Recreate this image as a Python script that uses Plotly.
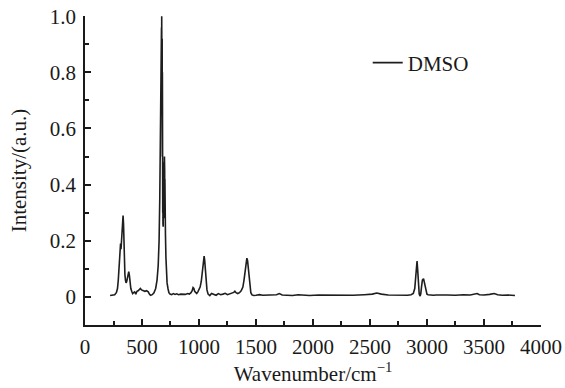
import plotly.graph_objects as go

# Raman spectrum of DMSO
wavenumber = [
    220, 240, 260, 275, 285, 292, 298, 304, 308, 312, 316, 320, 325, 330, 334, 338, 342, 346, 350, 355,
    360, 366, 372, 378, 384, 390, 396, 402, 410, 418, 426, 436, 446, 456, 466, 476, 486, 496, 510, 525,
    540, 555, 565, 575, 590, 605, 620, 632, 642, 650, 656, 660, 664, 667, 669, 671, 672, 673, 674, 675,
    676, 677, 678, 679, 680, 681, 682, 683, 684, 685, 686, 687, 688, 689, 690, 691, 692, 693, 694, 695,
    696, 697, 698, 699, 700, 701, 702, 703, 706, 710, 715, 720, 728, 736, 746, 760,
    775, 790, 805, 820, 840, 860, 880, 900, 915, 930, 940, 948, 955, 962, 970, 980, 990, 1000, 1010, 1020,
    1028, 1034, 1040, 1045, 1050, 1056, 1062, 1070, 1080, 1095, 1110, 1130, 1150, 1170, 1190, 1210, 1230, 1250, 1270, 1290,
    1305, 1315, 1325, 1340, 1355, 1370, 1385, 1395, 1405, 1413, 1420, 1426, 1432, 1438, 1446, 1455, 1465, 1480, 1500, 1530,
    1560, 1600, 1640, 1680, 1705, 1730, 1770, 1820, 1870, 1920, 1970, 2050, 2150, 2250, 2350, 2450, 2520, 2560, 2600, 2660,
    2720, 2780, 2830, 2860, 2880, 2893, 2902, 2908, 2913, 2918, 2924, 2932, 2940, 2946, 2952, 2960, 2970, 2982, 2991, 3000,
    3010, 3020, 3035, 3055, 3080, 3120, 3180, 3250, 3320, 3380, 3420, 3440, 3460, 3500, 3550, 3590, 3620, 3660, 3710, 3750,
    3772,
]
intensity_dmso = [
    0.005, 0.006, 0.008, 0.015, 0.030, 0.060, 0.100, 0.150, 0.180, 0.190, 0.170, 0.200, 0.240, 0.270, 0.290, 0.260, 0.180, 0.120, 0.080, 0.060,
    0.050, 0.055, 0.070, 0.085, 0.090, 0.075, 0.050, 0.030, 0.020, 0.012, 0.015, 0.018, 0.010, 0.020, 0.022, 0.025, 0.030, 0.025, 0.022, 0.020,
    0.022, 0.018, 0.010, 0.006, 0.008, 0.015, 0.030, 0.060, 0.110, 0.200, 0.350, 0.550, 0.720, 0.900, 0.720, 0.960, 0.750, 1.000, 0.700, 0.950,
    0.650, 0.920, 0.500, 0.800, 0.400, 0.600, 0.300, 0.450, 0.260, 0.400, 0.250, 0.430, 0.260, 0.480, 0.280, 0.460, 0.300, 0.500, 0.280, 0.470,
    0.320, 0.500, 0.300, 0.450, 0.280, 0.420, 0.300, 0.330, 0.220, 0.140, 0.080, 0.050, 0.030, 0.015, 0.010, 0.008,
    0.012, 0.009, 0.011, 0.008, 0.010, 0.010, 0.009, 0.012, 0.010, 0.015, 0.022, 0.033, 0.030, 0.020, 0.015, 0.012, 0.018, 0.025, 0.035, 0.055,
    0.085, 0.115, 0.138, 0.145, 0.130, 0.090, 0.050, 0.025, 0.010, 0.005, 0.012, 0.008, 0.006, 0.012, 0.008, 0.010, 0.013, 0.008, 0.010, 0.012,
    0.016, 0.020, 0.015, 0.012, 0.015, 0.022, 0.035, 0.060, 0.095, 0.125, 0.138, 0.130, 0.105, 0.070, 0.035, 0.015, 0.007, 0.005, 0.006, 0.008,
    0.006, 0.007, 0.006, 0.008, 0.012, 0.007, 0.006, 0.005, 0.008, 0.006, 0.005, 0.007, 0.006, 0.005, 0.006, 0.008, 0.010, 0.014, 0.010, 0.007,
    0.006, 0.007, 0.006, 0.008, 0.012, 0.030, 0.070, 0.110, 0.128, 0.100, 0.040, 0.010, 0.003, 0.012, 0.035, 0.060, 0.065, 0.045, 0.020, 0.010,
    0.008, 0.007, 0.008, 0.006, 0.007, 0.006, 0.007, 0.006, 0.008, 0.007, 0.010, 0.012, 0.008, 0.007, 0.009, 0.012, 0.008, 0.006, 0.007, 0.006,
    0.005,
]

x_tickvals = [0, 500, 1000, 1500, 2000, 2500, 3000, 3500, 4000]
x_ticktext = ["0", "500", "1000", "1500", "2000", "2500", "3000", "3500", "4000"]
y_tickvals = [0, 0.2, 0.4, 0.6, 0.8, 1.0]
y_ticktext = ["0", "0.2", "0.4", "0.6", "0.8", "1.0"]

FONT = "Liberation Serif, Times New Roman, serif"

fig = go.Figure()
fig.add_trace(go.Scatter(
    x=wavenumber, y=intensity_dmso, mode="lines", name="DMSO",
    line=dict(color="#1e1e1e", width=1.6),
))

fig.update_layout(
    width=565, height=388,
    margin=dict(l=85, r=24, t=16, b=63),
    paper_bgcolor="white", plot_bgcolor="white",
    font=dict(family=FONT, size=21, color="#1a1a1a"),
    showlegend=True,
    legend=dict(x=0.62, y=0.848, xanchor="left", yanchor="middle",
                bgcolor="rgba(0,0,0,0)", font=dict(family=FONT, size=21)),
)
fig.update_xaxes(
    range=[0, 4000.5], showgrid=False, zeroline=False, automargin=False,
    showline=True, linecolor="#1a1a1a", linewidth=1.5,
    tickmode="array", tickvals=x_tickvals, ticktext=x_ticktext,
    ticks="inside", ticklen=6, tickwidth=1.5, tickcolor="#1a1a1a",
    minor=dict(dtick=250, tick0=0, ticks="inside", ticklen=4, tickwidth=1.5, tickcolor="#1a1a1a", showgrid=False),
    ticklabelstandoff=2,
    title=dict(text="Wavenumber/cm<sup>−1</sup>", standoff=2, font=dict(family=FONT, size=21)),
)
fig.update_yaxes(
    range=[-0.1, 1.0006], showgrid=False, zeroline=False, automargin=False,
    showline=True, linecolor="#1a1a1a", linewidth=1.5,
    tickmode="array", tickvals=y_tickvals, ticktext=y_ticktext,
    ticks="inside", ticklen=6, tickwidth=1.5, tickcolor="#1a1a1a",
    minor=dict(dtick=0.1, tick0=0, ticks="inside", ticklen=4, tickwidth=1.5, tickcolor="#1a1a1a", showgrid=False),
    ticklabelstandoff=3,
    title=dict(text="Intensity/(a.u.)", standoff=17, font=dict(family=FONT, size=21)),
)

# remove the default page margin so the figure fills the 565x388 window exactly
fig.write_html("out.html", config={"displayModeBar": False},
               post_script="document.body.style.margin='0';")
